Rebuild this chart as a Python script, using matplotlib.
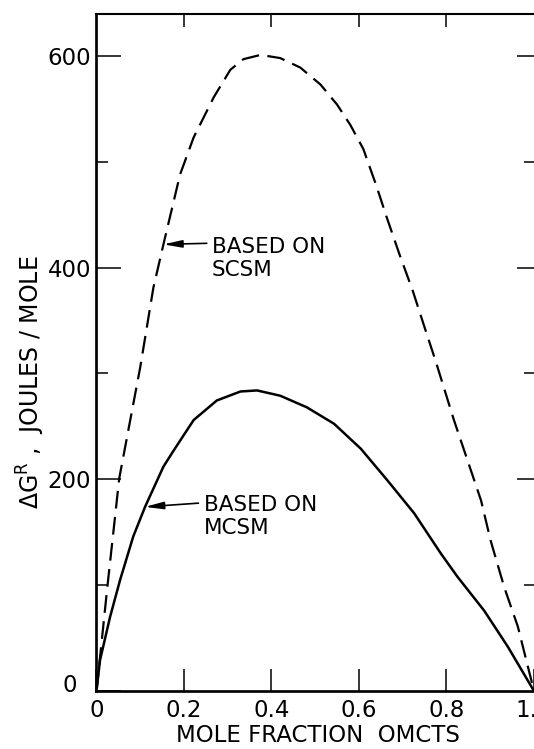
import matplotlib
matplotlib.use("Agg")
import matplotlib.pyplot as plt
import matplotlib.transforms as mtransforms

# SCSM (dashed) curve
x_scsm = [0, 0.025, 0.052, 0.100, 0.130, 0.153, 0.191, 0.222, 0.268, 0.306, 0.336, 0.375,
          0.420, 0.466, 0.512, 0.550, 0.580, 0.610, 0.640, 0.663, 0.693, 0.723, 0.748, 0.775,
          0.817, 0.848, 0.879, 0.901, 0.932, 0.963, 1.0]
y_scsm = [0, 99, 201, 306, 381, 422, 488, 523, 561, 587, 597, 601,
          598, 589, 573, 554, 535, 512, 477, 448, 412, 378, 346, 312,
          256, 218, 180, 142, 98, 61, 0]

# MCSM (solid) curve
x_mcsm = [0, 0.008, 0.031, 0.054, 0.084, 0.111, 0.153, 0.176, 0.222, 0.275, 0.329, 0.367,
          0.420, 0.481, 0.543, 0.604, 0.665, 0.726, 0.787, 0.825, 0.886, 0.940, 1.0]
y_mcsm = [0, 29, 70, 105, 146, 174, 212, 227, 256, 274.5, 283, 284,
          279, 268, 252.5, 229, 199, 168, 130, 108, 76, 42, 0]

xticks = [0, 0.2, 0.4, 0.6, 0.8, 1.0]
xticklabels = ["0", "0.2", "0.4", "0.6", "0.8", "1.0"]
yticks = [0, 200, 400, 600]
yminor = [100, 300, 500]

FS = 16.5
plt.rcParams["font.family"] = ["DejaVu Sans"]

fig = plt.figure(figsize=(5.34, 7.49), dpi=100)
fig.set_facecolor("white")
ax = fig.add_axes([0.1807, 0.0774, 0.8193, 0.9044])

ax.plot(x_scsm, y_scsm, color="black", lw=1.6, linestyle=(0, (8, 3.8)))
ax.plot(x_mcsm, y_mcsm, color="black", lw=1.8)

ax.set_xlim(0, 1.0)
ax.set_ylim(0, 640)

ax.set_xticks(xticks)
ax.set_xticklabels(xticklabels, fontsize=FS)
ax.set_yticks(yticks)
ax.set_yticklabels([str(v) for v in yticks], fontsize=FS)
ax.set_yticks(yminor, minor=True)

ax.tick_params(axis="x", direction="in", length=16, width=1.1, pad=6, top=False)
ax.tick_params(axis="y", which="major", direction="in", length=18, width=1.1, pad=4)
ax.tick_params(axis="y", which="minor", direction="in", length=8.5, width=1.1)

for side in ["left", "bottom"]:
    ax.spines[side].set_linewidth(1.9)
ax.spines["top"].set_linewidth(1.5)
ax.spines["right"].set_visible(False)

# odd placement of the "0" label on the y axis
lab0 = ax.yaxis.get_major_ticks()[0].label1
lab0.set_transform(lab0.get_transform() +
                   mtransforms.ScaledTranslation(-10 / 72, 6 / 72, fig.dpi_scale_trans))

# top ticks
axt = ax.twiny()
axt.set_xlim(ax.get_xlim())
axt.set_xticks([0.2, 0.4, 0.6, 0.8])
axt.tick_params(axis="x", direction="in", length=9.5, width=1.1, labeltop=False)
axt.spines["right"].set_visible(False)
axt.spines["top"].set_visible(False)

# right ticks
axr = ax.twinx()
axr.set_ylim(ax.get_ylim())
axr.set_yticks([200, 400, 600])
axr.set_yticks(yminor, minor=True)
axr.tick_params(axis="y", which="major", direction="in", length=12, width=1.1, labelright=False)
axr.tick_params(axis="y", which="minor", direction="in", length=7, width=1.1)
axr.spines["right"].set_visible(False)
axr.spines["top"].set_visible(False)

# annotations
AFS = 15.5
ax.text(0.264, 429, "BASED ON\nSCSM", fontsize=AFS, ha="left", va="top", linespacing=1.2)
ax.annotate("", xy=(0.153, 422), xytext=(0.252, 423),
            arrowprops=dict(arrowstyle="-|>,head_length=1.1,head_width=0.22",
                            color="black", lw=1.2, shrinkA=0, shrinkB=0))
ax.text(0.245, 185, "BASED ON\nMCSM", fontsize=AFS, ha="left", va="top", linespacing=1.2)
ax.annotate("", xy=(0.111, 174), xytext=(0.233, 177.5),
            arrowprops=dict(arrowstyle="-|>,head_length=1.1,head_width=0.22",
                            color="black", lw=1.2, shrinkA=0, shrinkB=0))

fig.text(0.596, 0.003, "MOLE FRACTION  OMCTS", fontsize=FS, ha="center", va="bottom")
fig.text(0.057, 0.49, r"$\Delta\mathrm{G}^{\mathrm{R}}$ ,  JOULES / MOLE", fontsize=17,
         rotation=90, ha="center", va="center")

fig.savefig("out.png", dpi=100, facecolor="white")
